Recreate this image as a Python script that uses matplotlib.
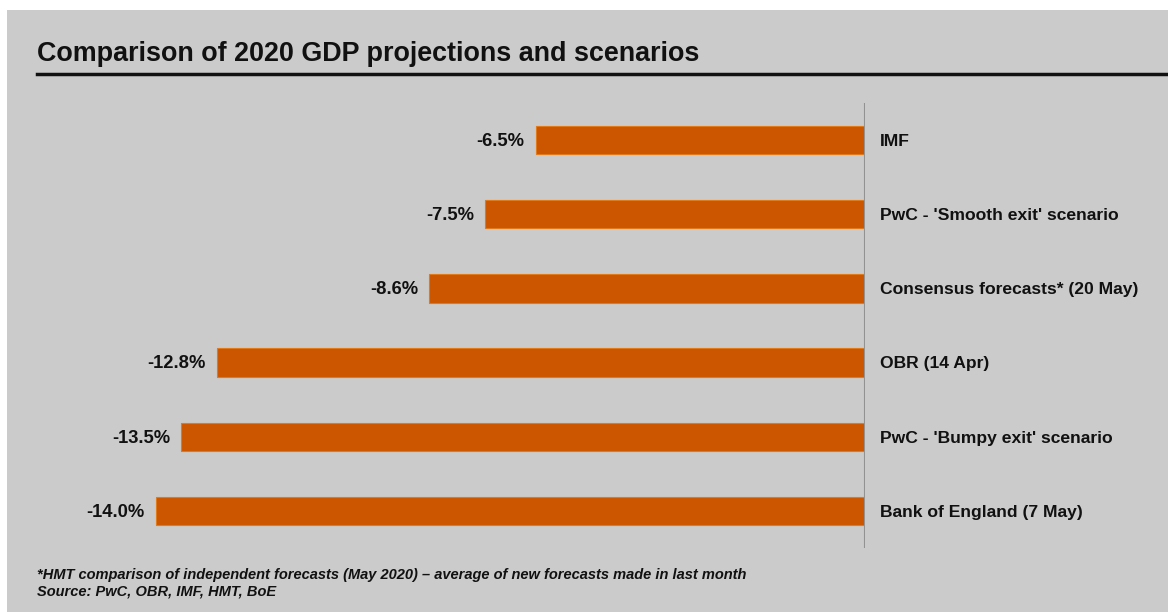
import matplotlib.pyplot as plt
from matplotlib.lines import Line2D

# ---- data ----
labels = ["IMF", "PwC - 'Smooth exit' scenario", "Consensus forecasts* (20 May)",
          "OBR (14 Apr)", "PwC - 'Bumpy exit' scenario", "Bank of England (7 May)"]
values = [-6.5, -7.5, -8.6, -12.8, -13.5, -14.0]

title = "Comparison of 2020 GDP projections and scenarios"
note = "*HMT comparison of independent forecasts (May 2020) \u2013 average of new forecasts made in last month"
source = "Source: PwC, OBR, IMF, HMT, BoE"

W, H = 1168, 612
BG = "#cbcbcb"
BAR = "#cc5500"

plt.rcParams["font.family"] = ["Liberation Sans", "DejaVu Sans"]

fig = plt.figure(figsize=(W / 100, H / 100), dpi=100)
fig.patch.set_facecolor("white")
# gray panel (white strip top and left)
fig.patches.append(plt.Rectangle((7 / W, 0), 1, 1 - 10 / H, transform=fig.transFigure,
                                 facecolor=BG, edgecolor="none", zorder=-5))

# axes: x from 80px to 865px, y from 103px to 548px
ax = fig.add_axes([80 / W, 1 - 548 / H, (865 - 80) / W, (548 - 103) / H])
ax.set_zorder(2)
ax.set_facecolor("none")
ypos = list(range(len(labels)))
ax.barh(ypos, values, height=0.38, color=BAR, edgecolor="#e07a1a", linewidth=0.8, zorder=2)
ax.set_xlim(-15.5, 0)
ax.set_ylim(len(labels) - 0.5, -0.5)
ax.axis("off")
ax.axvline(0, color="#929292", lw=1.5, zorder=3)

for y, v, lab in zip(ypos, values, labels):
    ax.annotate(f"{v:.1f}%", (v, y), xytext=(-8, -1), textcoords="offset points",
                ha="right", va="center", fontsize=13.2, fontweight="bold", color="#111111",
                annotation_clip=False)
    ax.annotate(lab, (0, y), xytext=(11, -1), textcoords="offset points",
                ha="left", va="center", fontsize=12.6, fontweight="bold", color="#111111",
                annotation_clip=False)

# title and rule
fig.text(37 / W, 1 - 54 / H, title, ha="left", va="center", fontsize=19.4,
         fontweight="bold", color="#111111")
fig.add_artist(Line2D([37 / W, 1], [1 - 74 / H, 1 - 74 / H], transform=fig.transFigure,
                      color="#111111", lw=2.5))

# footnote
fig.text(37 / W, 1 - 575 / H, note, ha="left", va="center", fontsize=10.5,
         style="italic", fontweight="bold", color="#111111")
fig.text(37 / W, 1 - 591 / H, source, ha="left", va="center", fontsize=10.5,
         style="italic", fontweight="bold", color="#111111")

fig.savefig("out.png", dpi=100, facecolor=fig.get_facecolor())
